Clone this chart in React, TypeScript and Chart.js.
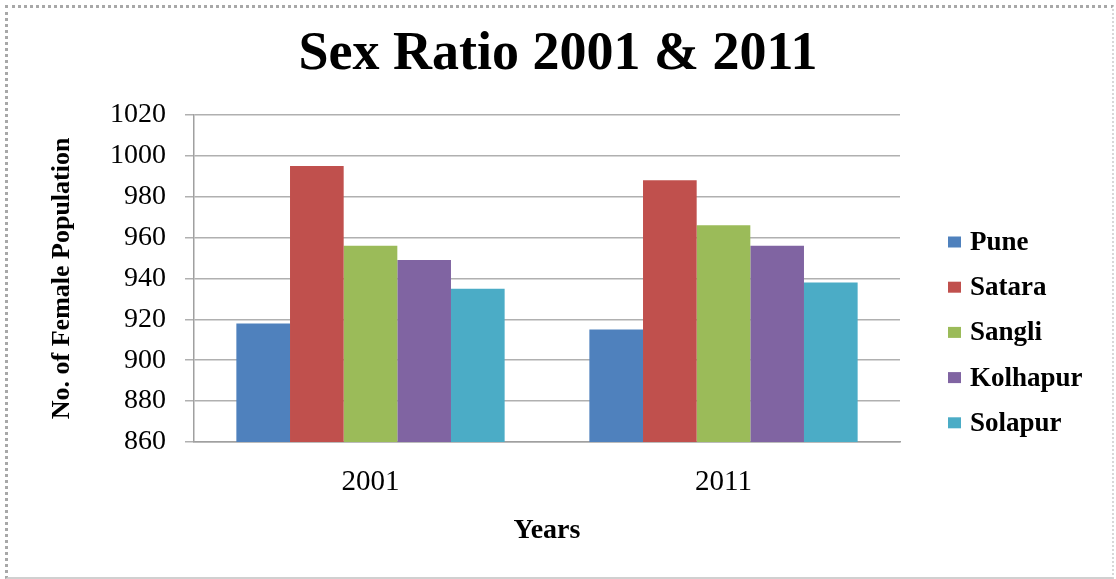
import React, { useEffect, useRef } from "react";
import { Chart, registerables } from "chart.js";

Chart.register(...registerables);

const chartTitle = "Sex Ratio 2001 & 2011";
const xTitle = "Years";
const yTitle = "No. of Female Population";
const categories = ["2001", "2011"];
const seriesNames = ["Pune", "Satara", "Sangli", "Kolhapur", "Solapur"];
const pune = [918, 915];
const satara = [995, 988];
const sangli = [956, 966];
const kolhapur = [949, 956];
const solapur = [935, 938];
const seriesColors = ["#4F81BD", "#C0504D", "#9BBB59", "#8064A2", "#4BACC6"];
const yTickValues = [860, 880, 900, 920, 940, 960, 980, 1000, 1020];

const FONT = '"Liberation Serif", "Times New Roman", serif';

const sideLegend = {
  id: "sideLegend",
  afterDraw(chart: any) {
    const ctx = chart.ctx;
    ctx.save();
    ctx.font = `bold 27px ${FONT}`;
    ctx.textBaseline = "middle";
    ctx.textAlign = "left";
    chart.data.datasets.forEach((ds: any, i: number) => {
      const cy = 242 + i * 45.2;
      ctx.fillStyle = ds.backgroundColor;
      ctx.fillRect(948, cy - 5.5, 13, 11);
      ctx.fillStyle = "#000";
      ctx.fillText(ds.label, 970, cy + 1);
    });
    ctx.restore();
  },
};

export default function App() {
  const ref = useRef<HTMLCanvasElement | null>(null);

  useEffect(() => {
    if (!ref.current) return;
    const values = [pune, satara, sangli, kolhapur, solapur];
    const chart = new Chart(ref.current, {
      type: "bar",
      data: {
        labels: categories,
        datasets: seriesNames.map((name, i) => ({
          label: name,
          data: values[i],
          backgroundColor: seriesColors[i],
          borderWidth: 0,
          categoryPercentage: 0.76,
          barPercentage: 1.0,
        })),
      },
      options: {
        responsive: false,
        animation: false,
        devicePixelRatio: 1,
        layout: { padding: { left: 40, right: 40, top: 8, bottom: 20 } },
        plugins: {
          legend: { display: false },
          tooltip: { enabled: false },
          title: {
            display: true,
            text: chartTitle,
            color: "#000",
            font: { family: FONT, size: 54, weight: "bold" },
            padding: { top: 15, bottom: 27 },
          },
        },
        scales: {
          x: {
            grid: { display: false, drawTicks: false },
            border: { display: true, color: "#a0a0a0", width: 1.5 },
            ticks: { color: "#000", font: { family: FONT, size: 29 }, padding: 23 },
            title: {
              display: true,
              text: xTitle,
              color: "#000",
              font: { family: FONT, size: 28, weight: "bold" },
              padding: { top: 0, bottom: 11 },
            },
            afterFit: (s: any) => {
              s.height = 117;
            },
          },
          y: {
            min: 860,
            max: 1020,
            afterBuildTicks: (s: any) => {
              s.ticks = yTickValues.map((v) => ({ value: v }));
            },
            grid: { color: "#b0b0b0", lineWidth: 1.5, drawTicks: true, tickLength: 9 },
            border: { display: true, color: "#a0a0a0", width: 1.5 },
            ticks: {
              color: "#000",
              font: { family: FONT, size: 28 },
              padding: 19,
              callback: (v: any) => String(v),
            },
            title: {
              display: true,
              text: yTitle,
              color: "#000",
              font: { family: FONT, size: 26, weight: "bold" },
              padding: { top: 7, bottom: 0 },
            },
            afterFit: (s: any) => {
              s.width = 154;
            },
          },
          yRight: {
            type: "linear",
            position: "right",
            display: true,
            grid: { display: false, drawTicks: false },
            border: { display: false },
            ticks: { display: false },
            afterFit: (s: any) => {
              s.width = 176;
            },
          },
        },
      },
      plugins: [sideLegend],
    } as any);
    return () => chart.destroy();
  }, []);

  return (
    <div style={{ position: "fixed", left: 0, top: 0, width: 1116, height: 579, background: "#fff" }}>
      <div
        style={{
          position: "absolute",
          left: 5,
          top: 5,
          right: 2,
          bottom: 0,
          borderLeft: "3px dotted #a8a8a8",
          borderTop: "3px dotted #a8a8a8",
          borderRight: "2px dotted #d8d8d8",
          borderBottom: "2px solid #d0d0d0",
        }}
      />
      <canvas
        ref={ref}
        width={1116}
        height={579}
        style={{ position: "absolute", left: 0, top: 0, display: "block" }}
      />
    </div>
  );
}
